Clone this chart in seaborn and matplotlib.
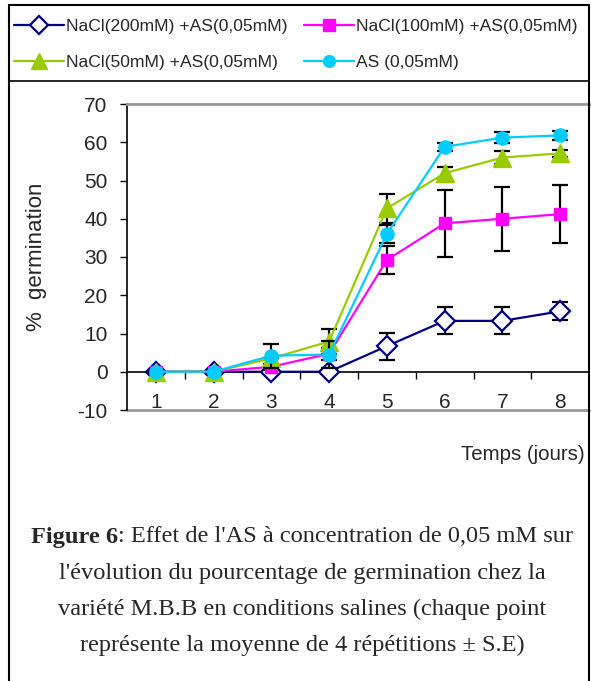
import matplotlib
matplotlib.use("Agg")
import matplotlib.pyplot as plt
from matplotlib.patches import Rectangle
from matplotlib.lines import Line2D
import pandas as pd
import seaborn as sns

# --- data -------------------------------------------------------------
days = [1, 2, 3, 4, 5, 6, 7, 8]
day_labels = ["1", "2", "3", "4", "5", "6", "7", "8"]

nacl200 = [0, 0, 0, 0, 6.7, 13.3, 13.3, 15.8]
se200 = [0, 0, 0, 0, 3.5, 3.5, 3.5, 2.4]

nacl100 = [0, 0, 1.3, 4.7, 29.2, 38.8, 40.0, 41.2]
se100 = [0, 0, 0.8, 1.5, 3.6, 8.7, 8.4, 7.5]

nacl50 = [0, 0, 3.5, 7.9, 42.7, 51.9, 56.0, 57.1]
se50 = [0, 0, 0, 3.2, 3.8, 1.7, 1.7, 1.0]

as_only = [0, 0, 4.2, 4.5, 36.0, 58.8, 61.2, 61.8]
se_as = [0, 0, 3.1, 3.5, 2.4, 1.0, 1.5, 1.2]

series_names = ["NaCl(200mM) +AS(0,05mM)", "NaCl(100mM) +AS(0,05mM)",
                "NaCl(50mM) +AS(0,05mM)", "AS (0,05mM)"]
yticks = [-10, 0, 10, 20, 30, 40, 50, 60, 70]

# --- style ------------------------------------------------------------
sns.set_style("white")
plt.rcParams["font.family"] = ["Liberation Sans", "DejaVu Sans"]

W, H = 591, 681
fig = plt.figure(figsize=(W / 100, H / 100), dpi=100)
ax = fig.add_axes([127 / W, 1 - 410 / H, 462 / W, 306 / H])

styles = [
    dict(color="#000080", marker="D", mfc="white", mec="#000080", ms=10, mew=1.6),
    dict(color="#FF00FF", marker="s", mfc="#FF00FF", mec="#FF00FF", ms=9, mew=1),
    dict(color="#99CC00", marker="^", mfc="#99CC00", mec="#99CC00", ms=13, mew=1),
    dict(color="#00CCFF", marker="o", mfc="#00CCFF", mec="#00CCFF", ms=9.5, mew=1),
]
values = [nacl200, nacl100, nacl50, as_only]
errors = [se200, se100, se50, se_as]

frames = []
for name, v, e in zip(series_names, values, errors):
    frames.append(pd.DataFrame({"jour": days, "pct": v, "se": e, "serie": name}))
df = pd.concat(frames, ignore_index=True)

handles = []
for i, name in enumerate(series_names):
    sub = df[df["serie"] == name]
    st = styles[i]
    # error bars first so the markers sit on top
    ax.errorbar(sub["jour"], sub["pct"], yerr=sub["se"], fmt="none",
                ecolor="black", elinewidth=1.6, capsize=6, capthick=1.6,
                zorder=2 + i)
    sns.lineplot(data=sub, x="jour", y="pct", ax=ax, color=st["color"],
                 linewidth=1.6, marker=st["marker"], markersize=st["ms"],
                 markerfacecolor=st["mfc"], markeredgecolor=st["mec"],
                 markeredgewidth=st["mew"], zorder=3 + i, legend=False)
    handles.append(Line2D([], [], color=st["color"], linewidth=1.6,
                          marker=st["marker"], markersize=st["ms"] - 1,
                          markerfacecolor=st["mfc"], markeredgecolor=st["mec"],
                          markeredgewidth=st["mew"]))

# --- axes -------------------------------------------------------------
ax.set_xlim(0.5, 8.5)
ax.set_ylim(-10, 70)
ax.set_yticks(yticks)
ax.set_yticklabels([str(t) for t in yticks], fontsize=15)
ax.tick_params(axis="y", direction="out", length=5, width=1, color="black",
               left=True, pad=9)

# category axis crossing at zero, ticks between categories
ax.spines["bottom"].set_position(("data", 0))
ax.set_xticks([1.5, 2.5, 3.5, 4.5, 5.5, 6.5, 7.5])
ax.set_xticklabels([])
ax.tick_params(axis="x", which="major", direction="out", length=5, width=1,
               color="black", bottom=True)
ax.set_xticks(days, minor=True)
ax.set_xticklabels(day_labels, minor=True, fontsize=15)
ax.tick_params(axis="x", which="minor", length=0, pad=15.5)

for s in ["left", "bottom"]:
    ax.spines[s].set_color("black")
    ax.spines[s].set_linewidth(1.2)
ax.spines["top"].set_color("#999999")
ax.spines["top"].set_linewidth(2)
ax.spines["right"].set_visible(False)
ax.axhline(-10, color="#999999", linewidth=2, zorder=1, clip_on=False)
ax.set_xlabel("")
ax.set_ylabel("%  germination", fontsize=16, labelpad=22)

fig.text(585 / W, 1 - 455 / H, "Temps (jours)", ha="right", va="center",
         fontsize=14.7)

# --- legend -----------------------------------------------------------
order = [0, 2, 1, 3]
fig.legend([handles[k] for k in order], [series_names[k] for k in order],
           ncol=2, loc="upper left", bbox_to_anchor=(14 / W, 1 - 19 / H),
           frameon=False, fontsize=12.6, handlelength=2.85, handletextpad=0.12,
           columnspacing=0.95, labelspacing=1.2, borderaxespad=0, borderpad=0)

# --- frame ------------------------------------------------------------
fig.add_artist(Rectangle((9 / W, -0.01), 580 / W, 1 - 5 / H + 0.01,
                         transform=fig.transFigure, fill=False,
                         edgecolor="black", linewidth=1.5))
fig.add_artist(Line2D([9 / W, 589 / W], [1 - 81 / H, 1 - 81 / H],
                      transform=fig.transFigure, color="black", linewidth=1.2))

# --- caption ----------------------------------------------------------
serif = ["Liberation Serif", "DejaVu Serif"]
cap_lines = [
    "l'évolution du pourcentage de germination chez la",
    "variété M.B.B en conditions salines (chaque point",
    "représente la moyenne de 4 répétitions ± S.E)",
]
cap_y = [537, 573, 609, 645]
cap_size = 17.6
# first line: bold lead-in followed by regular text
t1 = fig.text(0, 1 - cap_y[0] / H, "Figure 6", fontsize=cap_size,
              fontweight="bold", family=serif, va="center")
t2 = fig.text(0, 1 - cap_y[0] / H, ": Effet de l'AS à concentration de 0,05 mM sur",
              fontsize=cap_size, family=serif, va="center")
fig.canvas.draw()
r = fig.canvas.get_renderer()
w1 = t1.get_window_extent(r).width
w2 = t2.get_window_extent(r).width
x0 = 302 - (w1 + w2) / 2
t1.set_x(x0 / W)
t2.set_x((x0 + w1) / W)
for txt, yy in zip(cap_lines, cap_y[1:]):
    fig.text(302 / W, 1 - yy / H, txt, fontsize=cap_size, family=serif,
             ha="center", va="center")

fig.savefig("out.png", dpi=100)
